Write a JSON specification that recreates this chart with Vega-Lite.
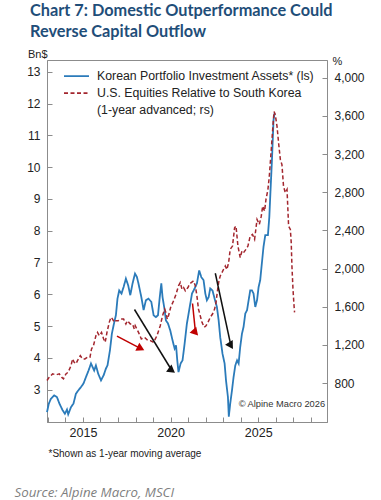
{
  "$schema": "https://vega.github.io/schema/vega-lite/v6.json",
  "width": 280,
  "height": 362,
  "autosize": {"type": "none"},
  "padding": {"left": 47, "top": 60, "right": 54, "bottom": 78},
  "background": "white",
  "config": {
    "view": {"stroke": "#8c8c8c", "strokeWidth": 1},
    "font": "Liberation Sans",
    "axis": {"grid": false, "domainColor": "#8c8c8c", "tickColor": "#8c8c8c", "labelColor": "#222222", "labelFontSize": 12, "labelFont": "Liberation Sans", "titleFont": "Liberation Sans", "titleFontWeight": "normal", "titleColor": "#222222"},
    "legend": {"orient": "none", "legendX": 16, "legendY": 8, "padding": 0, "title": null, "symbolType": "stroke", "symbolSize": 625, "symbolStrokeWidth": 1.6, "clipHeight": 16.3, "labelFontSize": 12.3, "labelFont": "Liberation Sans", "labelColor": "#222222", "labelOffset": 7, "rowPadding": 0, "labelLimit": 400}
  },
  "title": {
    "text": ["Chart 7: Domestic Outperformance Could", "Reverse Capital Outflow"],
    "anchor": "start",
    "frame": "group",
    "dx": -17,
    "dy": 6,
    "font": "Lato",
    "fontSize": 16.3,
    "fontWeight": "bold",
    "color": "#1F4E79",
    "lineHeight": 21,
    "offset": 14
  },
  "datasets": {
    "series": [
      {"s":"K","t":2012.95,"v":2.29},{"s":"K","t":2013.05,"v":2.55},{"s":"K","t":2013.17,"v":2.71},{"s":"K","t":2013.36,"v":2.82},{"s":"K","t":2013.52,"v":2.76},{"s":"K","t":2013.65,"v":2.57},{"s":"K","t":2013.84,"v":2.35},{"s":"K","t":2013.97,"v":2.24},{"s":"K","t":2014.09,"v":2.37},{"s":"K","t":2014.16,"v":2.22},{"s":"K","t":2014.32,"v":2.45},{"s":"K","t":2014.46,"v":2.56},{"s":"K","t":2014.60,"v":2.87},{"s":"K","t":2014.73,"v":2.97},{"s":"K","t":2014.89,"v":3.08},{"s":"K","t":2015.03,"v":3.19},{"s":"K","t":2015.17,"v":3.39},{"s":"K","t":2015.32,"v":3.6},{"s":"K","t":2015.46,"v":3.82},{"s":"K","t":2015.55,"v":3.71},{"s":"K","t":2015.64,"v":3.6},{"s":"K","t":2015.74,"v":3.76},{"s":"K","t":2015.87,"v":3.5},{"s":"K","t":2016.03,"v":3.29},{"s":"K","t":2016.18,"v":3.45},{"s":"K","t":2016.31,"v":3.66},{"s":"K","t":2016.40,"v":3.76},{"s":"K","t":2016.54,"v":4.23},{"s":"K","t":2016.65,"v":4.76},{"s":"K","t":2016.79,"v":5.13},{"s":"K","t":2016.88,"v":5.34},{"s":"K","t":2016.97,"v":5.86},{"s":"K","t":2017.07,"v":6.12},{"s":"K","t":2017.20,"v":6.02},{"s":"K","t":2017.32,"v":6.23},{"s":"K","t":2017.45,"v":6.49},{"s":"K","t":2017.58,"v":6.28},{"s":"K","t":2017.70,"v":5.97},{"s":"K","t":2017.83,"v":6.34},{"s":"K","t":2017.97,"v":6.65},{"s":"K","t":2018.08,"v":6.54},{"s":"K","t":2018.17,"v":6.33},{"s":"K","t":2018.33,"v":5.91},{"s":"K","t":2018.46,"v":5.5},{"s":"K","t":2018.59,"v":5.81},{"s":"K","t":2018.74,"v":5.86},{"s":"K","t":2018.90,"v":5.76},{"s":"K","t":2019.03,"v":5.34},{"s":"K","t":2019.16,"v":5.28},{"s":"K","t":2019.28,"v":5.34},{"s":"K","t":2019.38,"v":5.9},{"s":"K","t":2019.47,"v":6.34},{"s":"K","t":2019.54,"v":5.91},{"s":"K","t":2019.66,"v":5.5},{"s":"K","t":2019.73,"v":5.18},{"s":"K","t":2019.85,"v":5.08},{"s":"K","t":2019.98,"v":4.86},{"s":"K","t":2020.11,"v":4.55},{"s":"K","t":2020.23,"v":4.29},{"s":"K","t":2020.31,"v":4.39},{"s":"K","t":2020.38,"v":3.92},{"s":"K","t":2020.45,"v":3.55},{"s":"K","t":2020.57,"v":3.82},{"s":"K","t":2020.68,"v":3.92},{"s":"K","t":2020.80,"v":4.45},{"s":"K","t":2020.93,"v":5.08},{"s":"K","t":2021.06,"v":5.5},{"s":"K","t":2021.22,"v":6.02},{"s":"K","t":2021.37,"v":6.18},{"s":"K","t":2021.50,"v":6.34},{"s":"K","t":2021.63,"v":6.75},{"s":"K","t":2021.75,"v":6.54},{"s":"K","t":2021.88,"v":6.44},{"s":"K","t":2021.98,"v":6.02},{"s":"K","t":2022.07,"v":5.81},{"s":"K","t":2022.17,"v":5.91},{"s":"K","t":2022.26,"v":6.18},{"s":"K","t":2022.39,"v":6.12},{"s":"K","t":2022.51,"v":5.86},{"s":"K","t":2022.64,"v":5.6},{"s":"K","t":2022.74,"v":5.18},{"s":"K","t":2022.83,"v":4.65},{"s":"K","t":2022.96,"v":4.13},{"s":"K","t":2023.08,"v":3.82},{"s":"K","t":2023.16,"v":3.29},{"s":"K","t":2023.27,"v":2.76},{"s":"K","t":2023.32,"v":2.15},{"s":"K","t":2023.40,"v":2.56},{"s":"K","t":2023.50,"v":2.97},{"s":"K","t":2023.59,"v":3.39},{"s":"K","t":2023.69,"v":3.76},{"s":"K","t":2023.79,"v":3.92},{"s":"K","t":2023.88,"v":3.82},{"s":"K","t":2023.97,"v":4.34},{"s":"K","t":2024.07,"v":4.76},{"s":"K","t":2024.16,"v":4.97},{"s":"K","t":2024.26,"v":5.39},{"s":"K","t":2024.36,"v":5.5},{"s":"K","t":2024.45,"v":5.81},{"s":"K","t":2024.54,"v":6.12},{"s":"K","t":2024.64,"v":6.12},{"s":"K","t":2024.73,"v":6.02},{"s":"K","t":2024.83,"v":5.6},{"s":"K","t":2024.93,"v":5.81},{"s":"K","t":2025.02,"v":6.23},{"s":"K","t":2025.11,"v":6.44},{"s":"K","t":2025.21,"v":7.0},{"s":"K","t":2025.30,"v":7.5},{"s":"K","t":2025.40,"v":7.86},{"s":"K","t":2025.55,"v":7.86},{"s":"K","t":2025.63,"v":8.43},{"s":"K","t":2025.69,"v":9.17},{"s":"K","t":2025.78,"v":10.22},{"s":"K","t":2025.84,"v":11.06},{"s":"K","t":2025.87,"v":11.48},{"s":"K","t":2025.93,"v":11.7},
      {"s":"U","t":2012.95,"v":828},{"s":"U","t":2013.08,"v":863},{"s":"U","t":2013.27,"v":897},{"s":"U","t":2013.46,"v":887},{"s":"U","t":2013.65,"v":897},{"s":"U","t":2013.78,"v":863},{"s":"U","t":2013.89,"v":845},{"s":"U","t":2014.03,"v":897},{"s":"U","t":2014.16,"v":915},{"s":"U","t":2014.32,"v":984},{"s":"U","t":2014.41,"v":1054},{"s":"U","t":2014.50,"v":1019},{"s":"U","t":2014.60,"v":1002},{"s":"U","t":2014.69,"v":1036},{"s":"U","t":2014.85,"v":1088},{"s":"U","t":2014.98,"v":1054},{"s":"U","t":2015.11,"v":1054},{"s":"U","t":2015.26,"v":1071},{"s":"U","t":2015.40,"v":1071},{"s":"U","t":2015.49,"v":1158},{"s":"U","t":2015.60,"v":1193},{"s":"U","t":2015.74,"v":1297},{"s":"U","t":2015.83,"v":1332},{"s":"U","t":2015.93,"v":1297},{"s":"U","t":2016.06,"v":1332},{"s":"U","t":2016.18,"v":1263},{"s":"U","t":2016.27,"v":1228},{"s":"U","t":2016.37,"v":1332},{"s":"U","t":2016.50,"v":1437},{"s":"U","t":2016.60,"v":1489},{"s":"U","t":2016.69,"v":1471},{"s":"U","t":2016.79,"v":1437},{"s":"U","t":2016.88,"v":1454},{"s":"U","t":2017.01,"v":1454},{"s":"U","t":2017.17,"v":1471},{"s":"U","t":2017.32,"v":1471},{"s":"U","t":2017.45,"v":1419},{"s":"U","t":2017.54,"v":1454},{"s":"U","t":2017.70,"v":1419},{"s":"U","t":2017.83,"v":1419},{"s":"U","t":2017.93,"v":1367},{"s":"U","t":2017.98,"v":1402},{"s":"U","t":2018.17,"v":1332},{"s":"U","t":2018.33,"v":1263},{"s":"U","t":2018.51,"v":1280},{"s":"U","t":2018.71,"v":1245},{"s":"U","t":2018.84,"v":1245},{"s":"U","t":2019.03,"v":1228},{"s":"U","t":2019.22,"v":1297},{"s":"U","t":2019.41,"v":1402},{"s":"U","t":2019.54,"v":1506},{"s":"U","t":2019.66,"v":1576},{"s":"U","t":2019.73,"v":1541},{"s":"U","t":2019.81,"v":1471},{"s":"U","t":2019.88,"v":1506},{"s":"U","t":2020.00,"v":1593},{"s":"U","t":2020.17,"v":1663},{"s":"U","t":2020.31,"v":1732},{"s":"U","t":2020.45,"v":1819},{"s":"U","t":2020.55,"v":1854},{"s":"U","t":2020.65,"v":1784},{"s":"U","t":2020.74,"v":1802},{"s":"U","t":2020.84,"v":1767},{"s":"U","t":2020.99,"v":1802},{"s":"U","t":2021.08,"v":1837},{"s":"U","t":2021.18,"v":1854},{"s":"U","t":2021.31,"v":1871},{"s":"U","t":2021.41,"v":1819},{"s":"U","t":2021.50,"v":1715},{"s":"U","t":2021.59,"v":1576},{"s":"U","t":2021.69,"v":1506},{"s":"U","t":2021.79,"v":1437},{"s":"U","t":2021.92,"v":1385},{"s":"U","t":2022.02,"v":1402},{"s":"U","t":2022.13,"v":1437},{"s":"U","t":2022.26,"v":1489},{"s":"U","t":2022.39,"v":1524},{"s":"U","t":2022.51,"v":1576},{"s":"U","t":2022.59,"v":1645},{"s":"U","t":2022.66,"v":1750},{"s":"U","t":2022.74,"v":1854},{"s":"U","t":2022.83,"v":1923},{"s":"U","t":2022.93,"v":1958},{"s":"U","t":2023.02,"v":1993},{"s":"U","t":2023.12,"v":2028},{"s":"U","t":2023.21,"v":1990},{"s":"U","t":2023.31,"v":2063},{"s":"U","t":2023.40,"v":2202},{"s":"U","t":2023.53,"v":2236},{"s":"U","t":2023.65,"v":2428},{"s":"U","t":2023.73,"v":2445},{"s":"U","t":2023.84,"v":2236},{"s":"U","t":2023.97,"v":2115},{"s":"U","t":2024.07,"v":2184},{"s":"U","t":2024.16,"v":2167},{"s":"U","t":2024.30,"v":2202},{"s":"U","t":2024.41,"v":2236},{"s":"U","t":2024.54,"v":2341},{"s":"U","t":2024.67,"v":2358},{"s":"U","t":2024.79,"v":2306},{"s":"U","t":2024.93,"v":2515},{"s":"U","t":2025.06,"v":2463},{"s":"U","t":2025.17,"v":2549},{"s":"U","t":2025.25,"v":2654},{"s":"U","t":2025.36,"v":2602},{"s":"U","t":2025.44,"v":2724},{"s":"U","t":2025.55,"v":2828},{"s":"U","t":2025.63,"v":2967},{"s":"U","t":2025.74,"v":3245},{"s":"U","t":2025.82,"v":3454},{"s":"U","t":2025.90,"v":3645},{"s":"U","t":2025.97,"v":3611},{"s":"U","t":2026.07,"v":3489},{"s":"U","t":2026.16,"v":3315},{"s":"U","t":2026.26,"v":3141},{"s":"U","t":2026.35,"v":3089},{"s":"U","t":2026.44,"v":2863},{"s":"U","t":2026.54,"v":2794},{"s":"U","t":2026.64,"v":2828},{"s":"U","t":2026.73,"v":2445},{"s":"U","t":2026.83,"v":2411},{"s":"U","t":2026.88,"v":2272},{"s":"U","t":2026.92,"v":2028},{"s":"U","t":2026.98,"v":1784},{"s":"U","t":2027.04,"v":1610},{"s":"U","t":2027.07,"v":1541}
    ],
    "arrows": [
      {"s":"a1","t":2016.94,"v":4.68,"t2":2018.30,"v2":4.29},
      {"s":"a2","t":2017.94,"v":5.52,"t2":2020.07,"v2":3.60},
      {"s":"a3","t":2021.25,"v":5.71,"t2":2021.42,"v2":4.79},
      {"s":"a4","t":2022.55,"v":6.66,"t2":2023.44,"v2":4.38}
    ]
  },
  "layer": [
    {
      "data": {"name": "series"},
      "transform": [{"filter": "datum.s === 'K'"}],
      "mark": {"type": "line", "strokeWidth": 1.8},
      "encoding": {
        "x": {"field": "t", "type": "quantitative", "scale": {"domain": [2012.95, 2028.92], "nice": false, "zero": false},
          "axis": {"orient": "bottom", "values": [2013,2014,2015,2016,2017,2018,2019,2020,2021,2022,2023,2024,2025,2026,2027,2028], "format": "d", "labelExpr": "datum.value % 5 === 0 ? datum.label : ''", "tickSize": -5, "labelPadding": 9, "labelFontSize": 12.5, "domain": true,
            "title": "*Shown as 1-year moving average", "titleFontSize": 10, "titleX": 1, "titleY": 31, "titleAlign": "left", "titleBaseline": "middle", "titleAnchor": "start"}},
        "y": {"field": "v", "type": "quantitative", "scale": {"domain": [1.98, 13.37], "nice": false, "zero": false},
          "axis": {"values": [3,4,5,6,7,8,9,10,11,12,13], "tickSize": -5, "labelPadding": 12, "title": "Bn$", "titleAngle": 0, "titleX": 0, "titleY": -1, "titleAlign": "right", "titleBaseline": "bottom", "titleFontSize": 11}},
        "color": {"field": "s", "type": "nominal", "scale": {"domain": ["K","U","Z","a1","a2","a3","a4"], "range": ["#2B7BBA","#A3262E","rgba(0,0,0,0)","#C00000","#111111","#C00000","#111111"]},
          "legend": {"values": ["K","U","Z"], "labelExpr": "datum.value === 'K' ? 'Korean Portfolio Investment Assets* (ls)' : datum.value === 'U' ? 'U.S. Equities Relative to South Korea' : '(1-year advanced; rs)'"}},
        "strokeDash": {"field": "s", "type": "nominal", "scale": {"domain": ["K","U","Z","a1","a2","a3","a4"], "range": [[1,0],[4,2.5],[1,0],[1,0],[1,0],[1,0],[1,0]]},
          "legend": {"values": ["K","U","Z"], "labelExpr": "datum.value === 'K' ? 'Korean Portfolio Investment Assets* (ls)' : datum.value === 'U' ? 'U.S. Equities Relative to South Korea' : '(1-year advanced; rs)'"}}
      }
    },
    {
      "data": {"name": "series"},
      "transform": [{"filter": "datum.s === 'U'"}],
      "mark": {"type": "line", "strokeWidth": 1.5},
      "encoding": {
        "x": {"field": "t", "type": "quantitative", "scale": {"domain": [2012.95, 2028.92], "nice": false, "zero": false},
          "axis": {"orient": "bottom", "domain": false, "ticks": false, "labels": false, "title": "Source: Alpine Macro, MSCI", "titleFont": "Open Sans", "titleFontStyle": "italic", "titleFontSize": 13.3, "titleColor": "#7F7F7F", "titleX": -33, "titleY": 70, "titleAlign": "left", "titleBaseline": "middle", "titleAnchor": "start"}},
        "y": {"field": "v", "type": "quantitative", "scale": {"domain": [393, 4185], "nice": false, "zero": false},
          "axis": {"orient": "right", "values": [800,1200,1600,2000,2400,2800,3200,3600,4000], "format": ",d", "tickSize": -5, "labelPadding": 12, "title": "%", "titleAngle": 0, "titleX": 5, "titleY": 1, "titleAlign": "left", "titleBaseline": "middle", "titleFontSize": 11}},
        "color": {"field": "s", "type": "nominal"},
        "strokeDash": {"field": "s", "type": "nominal"}
      }
    },
    {
      "data": {"name": "arrows"},
      "mark": {"type": "rule", "strokeWidth": 1.5},
      "encoding": {
        "x": {"field": "t", "type": "quantitative", "scale": {"domain": [2012.95, 2028.92], "nice": false, "zero": false}, "axis": null},
        "x2": {"field": "t2"},
        "y": {"field": "v", "type": "quantitative", "scale": {"domain": [1.98, 13.37], "nice": false, "zero": false}, "axis": null},
        "y2": {"field": "v2"},
        "color": {"field": "s", "type": "nominal", "legend": null}
      }
    },
    {
      "data": {"name": "arrows"},
      "mark": {"type": "point", "shape": "triangle-up", "filled": true, "size": 80, "opacity": 1},
      "encoding": {
        "x": {"field": "t2", "type": "quantitative", "scale": {"domain": [2012.95, 2028.92], "nice": false, "zero": false}, "axis": null},
        "y": {"field": "v2", "type": "quantitative", "scale": {"domain": [1.98, 13.37], "nice": false, "zero": false}, "axis": null},
        "color": {"field": "s", "type": "nominal", "legend": null},
        "angle": {"field": "s", "type": "nominal", "scale": {"domain": ["a1","a2","a3","a4"], "range": [116.6, 148.6, 173.9, 167.6]}, "legend": null}
      }
    },
    {
      "data": {"values": [{}]},
      "mark": {"type": "text", "text": "© Alpine Macro 2026", "align": "left", "baseline": "middle", "fontSize": 9.3, "font": "Liberation Sans", "color": "#333333"},
      "encoding": {
        "x": {"datum": 2023.88, "type": "quantitative", "scale": {"domain": [2012.95, 2028.92], "nice": false, "zero": false}, "axis": null},
        "y": {"datum": 2.56, "type": "quantitative", "scale": {"domain": [1.98, 13.37], "nice": false, "zero": false}, "axis": null}
      }
    }
  ],
  "resolve": {"scale": {"y": "independent"}, "axis": {"x": "independent", "y": "independent"}}
}
